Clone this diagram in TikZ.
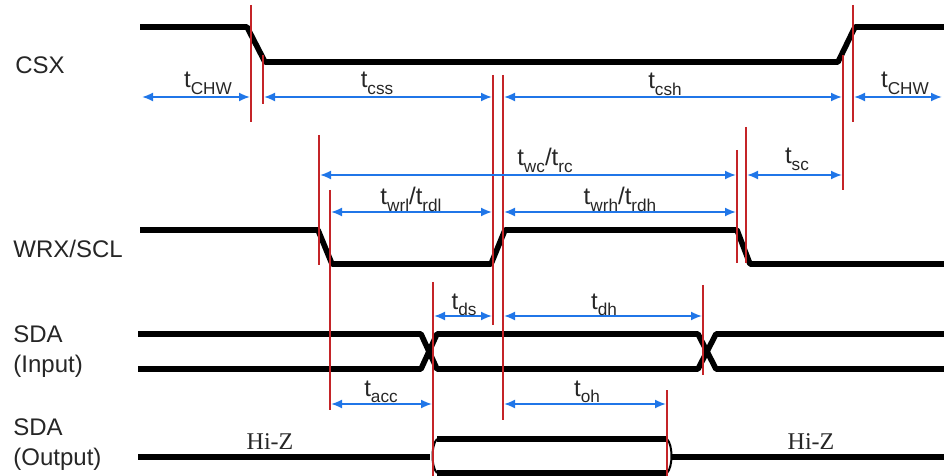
\documentclass[tikz,border=0pt]{standalone}
\usepackage{fontspec}
\setmainfont{Liberation Sans}
\newfontfamily\hizfont{Liberation Serif}
\usetikzlibrary{arrows.meta}
\definecolor{redmark}{RGB}{196,36,40}
\definecolor{dimblue}{RGB}{32,118,232}
\newcommand{\tsub}[1]{t\raisebox{-0.55ex}{\fontsize{8.6}{9}\selectfont #1}}
\begin{document}
\begin{tikzpicture}[x=0.5pt,y=-0.5pt,
    sig/.style={line width=2.8pt,line join=round},
    marker/.style={redmark,line width=0.8pt},
    dim/.style={dimblue,line width=0.9pt,{Latex[length=5.5pt,width=4.5pt]}-{Latex[length=5.5pt,width=4.5pt]}},
    tlab/.style={anchor=base,inner sep=0pt,text=black!85,font=\fontsize{12}{14}\selectfont},
    signame/.style={anchor=base west,inner sep=0pt,align=left,text=black!85,font=\fontsize{12}{14}\selectfont}]
  \useasboundingbox (0,0) rectangle (944,476);
  % signal names
  \node[signame] (csx) at (15,74) {CSX};
  \node[signame] (wrx) at (13,257) {WRX/SCL};
  \node[signame] (sdai) at (13,343) {SDA};
  \node[signame] (sdaii) at (13,372) {(Input)};
  \node[signame] (sdao) at (13,435) {SDA};
  \node[signame] (sdaoo) at (13,466) {(Output)};
  % waveforms
  \draw[sig] (140,27)--(247,27)--(265,62)--(838,62)--(855,27)--(944,27);
  \draw[sig] (140,230)--(318,230)--(332,264)--(491,264)--(505,230)--(737,230)--(750,264)--(944,264);
  \draw[sig] (138,334)--(421,334)--(437,369)--(698,369)--(716,334)--(944,334);
  \draw[sig] (138,369)--(421,369)--(437,334)--(698,334)--(716,369)--(944,369);
  \draw[sig] (138,457)--(430,457);
  \draw[sig] (437,439)--(667,439);
  \draw[sig] (437,473)--(667,473);
  \draw[line width=1pt] (437,439) .. controls (431,445) and (431,467) .. (437,473);
  \draw[line width=1pt] (667,439) .. controls (673,445) and (673,467) .. (667,473);
  \draw[sig] (672,457)--(944,457);
  \node[tlab,font=\hizfont\fontsize{12}{14}\selectfont] (hz1) at (270,450) {Hi-Z};
  \node[tlab,font=\hizfont\fontsize{12}{14}\selectfont] (hz2) at (811,450) {Hi-Z};
  % red markers
  \draw[marker] (251,5)--(251,122);
  \draw[marker] (263,55)--(263,104);
  \draw[marker] (319,135)--(319,265);
  \draw[marker] (330,190)--(330,410);
  \draw[marker] (433,282)--(433,476);
  \draw[marker] (493,75)--(493,325);
  \draw[marker] (503,75)--(503,420);
  \draw[marker] (667,390)--(667,476);
  \draw[marker] (703,285)--(703,375);
  \draw[marker] (737,150)--(737,263);
  \draw[marker] (746,127)--(746,263);
  \draw[marker] (843,55)--(843,190);
  \draw[marker] (853,5)--(853,122);
  % timing arrows
  \draw[dim] (142,97)--(250,97);
  \draw[dim] (264,97)--(492,97);
  \draw[dim] (504,97)--(842,97);
  \draw[dim] (854,97)--(942,97);
  \draw[dim] (320,175)--(736,175);
  \draw[dim] (747,175)--(842,175);
  \draw[dim] (331,212)--(492,212);
  \draw[dim] (504,212)--(736,212);
  \draw[dim] (434,316)--(492,316);
  \draw[dim] (504,316)--(702,316);
  \draw[dim] (331,404)--(432,404);
  \draw[dim] (504,404)--(666,404);
  % labels
  \node[tlab] (chw1) at (208,88) {\tsub{CHW}};
  \node[tlab] (css) at (377,88) {\tsub{css}};
  \node[tlab] (csh) at (665,89) {\tsub{csh}};
  \node[tlab] (chw2) at (905,88) {\tsub{CHW}};
  \node[tlab] (wc) at (545,166) {\tsub{wc}/\tsub{rc}};
  \node[tlab] (sc) at (797,164) {\tsub{sc}};
  \node[tlab] (wrl) at (411,205) {\tsub{wrl}/\tsub{rdl}};
  \node[tlab] (wrh) at (620,205) {\tsub{wrh}/\tsub{rdh}};
  \node[tlab] (ds) at (464,309) {\tsub{ds}};
  \node[tlab] (dh) at (604,309) {\tsub{dh}};
  \node[tlab] (acc) at (381,396) {\tsub{acc}};
  \node[tlab] (oh) at (587,396) {\tsub{oh}};
\end{tikzpicture}
\end{document}
